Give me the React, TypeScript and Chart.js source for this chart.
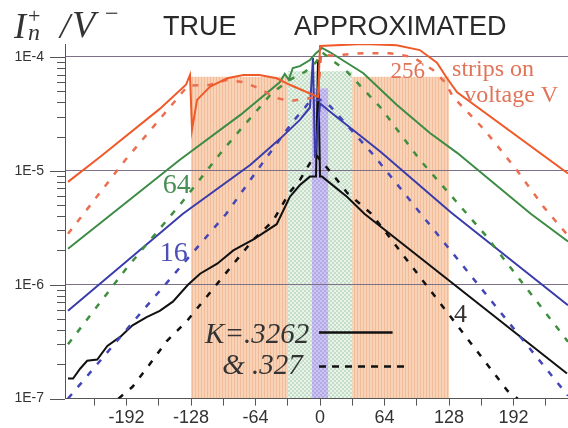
import React, { useEffect, useRef } from 'react';
import { Chart, registerables } from 'chart.js';

Chart.register(...registerables);

// ---------- axis data ----------
const xTickLabels = [-192, -128, -64, 0, 64, 128, 192];
const yDecades = [1e-7, 1e-6, 1e-5, 1e-4];
const yDecadeLabels = ['1E-7', '1E-6', '1E-5', '1E-4'];
const yMinorFactors = [2, 3, 4, 5, 6, 7, 8, 9];

// ---------- shaded bands (strip regions) ----------
const bandStart = [-128, -32, -8];
const bandEnd = [128, 32, 8];
const bandTop = [6.7e-5, 7.5e-5, 5.3e-5];

// ---------- 256 strips ----------
const orangeSolidX = [-250, -218, -159, -133, -129, -127, -122, -109, -92, -76, -60, -43, -30, -2, 0, 43, 76, 99, 116, 126, 136, 246];
const orangeSolidY = [8.0e-6, 1.33e-5, 3.5e-5, 5.7e-5, 6.95e-5, 2.3e-5, 4.2e-5, 5.5e-5, 6.5e-5, 6.95e-5, 6.95e-5, 6.5e-5, 5.7e-5, 4.46e-5, 1.25e-4, 1.3e-4, 1.27e-4, 1.15e-4, 8.9e-5, 6.5e-5, 4.9e-5, 9.5e-6];
const orangeDashX = [-250, -193, -131, -109, -92, -76, -60, -45, -30, -2, 1, 10, 43, 69, 92, 112, 124, 132, 163, 195, 222, 246];
const orangeDashY = [2.8e-6, 1.25e-5, 5.6e-5, 5.7e-5, 6.3e-5, 6.0e-5, 5.3e-5, 4.4e-5, 4.1e-5, 4.46e-5, 1.05e-4, 1.03e-4, 1.08e-4, 1.08e-4, 1.0e-4, 7.7e-5, 6.0e-5, 4.46e-5, 2.3e-5, 1.02e-5, 4.8e-6, 2.7e-6];

// ---------- 64 strips ----------
const greenSolidX = [-250, -139, -79, -40, -35, -31, -27, -20, -10, -4, 2, 10, 43, 76, 109, 136, 209, 246];
const greenSolidY = [2.07e-6, 1.25e-5, 3.1e-5, 6.0e-5, 7.1e-5, 6.3e-5, 8.0e-5, 8.3e-5, 9.4e-5, 1.08e-4, 1.2e-4, 1.1e-4, 7.2e-5, 3.8e-5, 2.15e-5, 1.44e-5, 4.2e-6, 2.4e-6];
const greenDashX = [-250, -193, -137, -96, -79, -60, -48, -30, -15, -4, 2, 27, 60, 99, 163, 246];
const greenDashY = [3.0e-7, 1.36e-6, 5.3e-6, 1.53e-5, 2.3e-5, 3.6e-5, 4.8e-5, 6.3e-5, 7.4e-5, 9.0e-5, 1.1e-4, 7.4e-5, 3.6e-5, 1.25e-5, 2.8e-6, 3.16e-7];

// ---------- 16 strips ----------
const blueSolidX = [-250, -136, -69, -40, -20, -10, -7, -5, 0, 10, 60, 130, 246];
const blueSolidY = [5.9e-7, 4.2e-6, 1.13e-5, 1.9e-5, 2.8e-5, 3.6e-5, 9.8e-5, 1.3e-5, 3.9e-5, 3.3e-5, 1.47e-5, 4.3e-6, 6.6e-7];
const blueDashX = [-250, -179, -93, -62, -27, -15, -9, 2, 10, 53, 100, 246];
const blueDashY = [1.0e-7, 5.5e-7, 4.2e-6, 1.02e-5, 2.7e-5, 3.6e-5, 4.2e-5, 4.2e-5, 3.7e-5, 1.38e-5, 4.2e-6, 1.06e-7];

// ---------- 4 strips ----------
const blackSolidX = [-250, -245, -238, -231, -221, -211, -198, -186, -172, -159, -146, -131, -119, -102, -86, -66, -43, -30, -20, -10, -4, -2, 0, 2, 27, 44, 245];
const blackSolidY = [1.5e-7, 1.5e-7, 1.83e-7, 2.15e-7, 2.2e-7, 2.9e-7, 3.5e-7, 4.4e-7, 5.2e-7, 5.9e-7, 7.1e-7, 1.0e-6, 1.25e-6, 1.53e-6, 2.0e-6, 2.5e-6, 3.4e-6, 5.9e-6, 7.5e-6, 8.9e-6, 8.9e-6, 9.4e-5, 8.9e-6, 8.9e-6, 5.9e-6, 4.2e-6, 1.66e-7];
const blackDashX = [-200, -186, -169, -152, -132, -102, -66, -47, -30, -20, -10, -4, 3, 17, 27, 51, 186, 196];
const blackDashY = [1.0e-7, 1.27e-7, 2.0e-7, 3.2e-7, 4.8e-7, 1.02e-6, 2.5e-6, 3.6e-6, 6.5e-6, 8.3e-6, 1.17e-5, 1.38e-5, 1.17e-5, 8.3e-6, 6.4e-6, 4.2e-6, 1.17e-7, 1.0e-7];

const zip = (xs: number[], ys: number[]) => xs.map((x, i) => ({ x, y: ys[i] }));

const isDecade = (v: number) => {
  const l = Math.log10(v);
  return Math.abs(l - Math.round(l)) < 1e-6;
};

const yTickValues: number[] = [];
yDecades.forEach((d, i) => {
  yTickValues.push(d);
  if (i < yDecades.length - 1) yMinorFactors.forEach(f => yTickValues.push(d * f));
});

const SANS = '"Liberation Sans", Arial, sans-serif';
const SERIF = '"Liberation Serif", "Times New Roman", serif';

function makePattern(ctx: CanvasRenderingContext2D, kind: number): CanvasPattern | string {
  const c = document.createElement('canvas');
  const p = c.getContext('2d')!;
  if (kind === 0) {
    c.width = 3; c.height = 3;
    p.fillStyle = '#f9d3b7'; p.fillRect(0, 0, 3, 3);
    p.fillStyle = '#f2bc99'; p.fillRect(0, 0, 1, 3);
  } else if (kind === 1) {
    c.width = 4; c.height = 4;
    p.fillStyle = '#c4dec8'; p.fillRect(0, 0, 4, 4);
    p.fillStyle = '#e9f3ea'; p.fillRect(0, 0, 2, 2); p.fillRect(2, 2, 2, 2);
  } else {
    c.width = 4; c.height = 4;
    p.fillStyle = '#b2a9e6'; p.fillRect(0, 0, 4, 4);
    p.fillStyle = '#cbc5f0'; p.fillRect(0, 0, 2, 2); p.fillRect(2, 2, 2, 2);
  }
  return ctx.createPattern(c, 'repeat') || '#f9d3b7';
}

const bandPlugin = {
  id: 'bands',
  beforeDraw(chart: any) {
    const { ctx, chartArea, scales } = chart;
    const x = scales.x, y = scales.y;
    ctx.save();
    ctx.fillStyle = '#ffffff';
    ctx.fillRect(0, 0, chart.width, chart.height);
    bandStart.forEach((s, i) => {
      const x0 = x.getPixelForValue(s);
      const x1 = x.getPixelForValue(bandEnd[i]);
      const yt = y.getPixelForValue(bandTop[i]);
      ctx.fillStyle = makePattern(ctx, i);
      ctx.fillRect(x0, yt, x1 - x0, chartArea.bottom - yt);
    });
    ctx.restore();
  },
};

const decorPlugin = {
  id: 'decor',
  afterDraw(chart: any) {
    const { ctx, chartArea, scales } = chart;
    const x = scales.x, y = scales.y;
    ctx.save();
    // y-axis tick marks (major longer, minor shorter)
    ctx.strokeStyle = '#555';
    ctx.lineWidth = 1;
    yTickValues.forEach(v => {
      const py = Math.round(y.getPixelForValue(v)) + 0.5;
      const len = isDecade(v) ? 15 : 8;
      ctx.beginPath();
      ctx.moveTo(chartArea.left - len, py);
      ctx.lineTo(chartArea.left, py);
      ctx.stroke();
    });

    const txt = (s: string, px: number, py: number, font: string, color: string) => {
      ctx.font = font;
      ctx.fillStyle = color;
      ctx.textAlign = 'left';
      ctx.textBaseline = 'alphabetic';
      ctx.fillText(s, px, py);
    };

    // header
    txt('I', 14, 38, `italic 36px ${SERIF}`, '#333');
    txt('n', 28, 40, `italic 24px ${SERIF}`, '#333');
    txt('+', 28, 23, `22px ${SERIF}`, '#333');
    txt('/', 60, 38, `italic 36px ${SERIF}`, '#333');
    txt('V', 72, 37, `italic 38px ${SERIF}`, '#333');
    txt('\u2212', 105, 21, `24px ${SERIF}`, '#333');
    txt('TRUE', 163, 35, `27px ${SANS}`, '#2a2a2a');
    txt('APPROXIMATED', 294, 35, `27px ${SANS}`, '#2a2a2a');

    // curve labels (data coordinates)
    const at = (s: string, xv: number, yv: number, font: string, color: string) =>
      txt(s, x.getPixelForValue(xv), y.getPixelForValue(yv), font, color);
    at('256', 70, 6.5e-5, `23px ${SERIF}`, '#e07458');
    at('strips on', 131, 6.8e-5, `24px ${SERIF}`, '#e07458');
    at('voltage V', 143, 4.0e-5, `24px ${SERIF}`, '#e07458');
    at('64', -156, 6.4e-6, `28px ${SERIF}`, '#4a8f55');
    at('16', -159, 1.63e-6, `28px ${SERIF}`, '#4d4fb5');
    at('4', 133, 4.7e-7, `26px ${SERIF}`, '#333');
    at('K=.3262', -114, 3.1e-7, `italic 29px ${SERIF}`, '#333');
    at('& .327', -97, 1.63e-7, `italic 29px ${SERIF}`, '#333');

    // legend samples
    ctx.strokeStyle = '#111';
    ctx.lineWidth = 2.5;
    ctx.beginPath();
    ctx.moveTo(x.getPixelForValue(-1), y.getPixelForValue(3.8e-7));
    ctx.lineTo(x.getPixelForValue(72), y.getPixelForValue(3.8e-7));
    ctx.stroke();
    ctx.setLineDash([7, 6]);
    ctx.beginPath();
    ctx.moveTo(x.getPixelForValue(-1), y.getPixelForValue(1.91e-7));
    ctx.lineTo(x.getPixelForValue(84), y.getPixelForValue(1.91e-7));
    ctx.stroke();
    ctx.restore();
  },
};

export default function App() {
  const ref = useRef<HTMLCanvasElement | null>(null);
  useEffect(() => {
    if (!ref.current) return;
    const series = [
      { data: zip(orangeSolidX, orangeSolidY), color: '#ef5a2a', dash: [] as number[], w: 2 },
      { data: zip(orangeDashX, orangeDashY), color: '#eb6e50', dash: [6, 9], w: 2.5 },
      { data: zip(greenSolidX, greenSolidY), color: '#3c8c46', dash: [], w: 2 },
      { data: zip(greenDashX, greenDashY), color: '#3f8f3f', dash: [6, 9], w: 2.5 },
      { data: zip(blueSolidX, blueSolidY), color: '#3a3caa', dash: [], w: 2 },
      { data: zip(blueDashX, blueDashY), color: '#4446b8', dash: [6, 9], w: 2.5 },
      { data: zip(blackSolidX, blackSolidY), color: '#111111', dash: [], w: 2 },
      { data: zip(blackDashX, blackDashY), color: '#111111', dash: [6, 9], w: 2.5 },
    ];
    const chart = new Chart(ref.current, {
      type: 'line',
      data: {
        datasets: series.map(s => ({
          data: s.data,
          borderColor: s.color,
          borderWidth: s.w,
          borderDash: s.dash,
          pointRadius: 0,
          fill: false,
          tension: 0,
        })),
      },
      options: {
        animation: false,
        responsive: false,
        maintainAspectRatio: false,
        layout: { padding: { top: 44, left: 0, right: 0, bottom: 0 } },
        plugins: { legend: { display: false }, tooltip: { enabled: false }, title: { display: false } },
        scales: {
          x: {
            type: 'linear',
            min: -253,
            max: 246,
            afterFit: (s: any) => { s.height = 29; },
            border: { display: true, color: '#555', width: 1 },
            grid: { drawOnChartArea: false, drawTicks: true, tickLength: 7, color: '#555' },
            ticks: {
              stepSize: 32,
              includeBounds: false,
              autoSkip: false,
              maxRotation: 0,
              padding: 2,
              color: '#333',
              font: { family: SANS, size: 18 },
              callback: (v: any) => (xTickLabels.includes(Number(v)) ? String(v) : ''),
            },
          },
          y: {
            type: 'logarithmic',
            min: 1e-7,
            max: 1.3e-4,
            afterFit: (s: any) => { s.width = 65; },
            afterBuildTicks: (s: any) => { s.ticks = yTickValues.map(v => ({ value: v })); },
            border: { display: true, color: '#555', width: 1 },
            grid: {
              drawTicks: false,
              lineWidth: 1,
              color: (c: any) => (c.tick && isDecade(c.tick.value) ? '#7d7088' : 'rgba(0,0,0,0)'),
            },
            ticks: {
              autoSkip: false,
              padding: 21,
              color: '#333',
              font: { family: SANS, size: 14 },
              callback: (v: any) => {
                const i = yDecades.findIndex(d => Math.abs(d - Number(v)) / d < 1e-6);
                return i >= 0 ? yDecadeLabels[i] : '';
              },
            },
          },
        },
      },
      plugins: [bandPlugin, decorPlugin],
    } as any);
    return () => chart.destroy();
  }, []);
  return (
    <div style={{ position: 'fixed', left: 0, top: 0, width: 568, height: 428, background: '#fff' }}>
      <canvas ref={ref} width={568} height={428} style={{ display: 'block' }} />
    </div>
  );
}
